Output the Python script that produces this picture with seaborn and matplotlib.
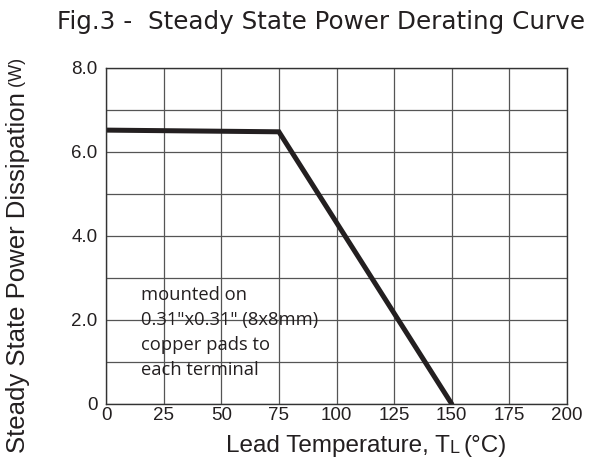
import matplotlib
matplotlib.use('Agg')
import matplotlib.pyplot as plt
import seaborn as sns
import pandas as pd

temps = [0, 75, 150]
power = [6.52, 6.48, 0.0]
x_ticks = [0, 25, 50, 75, 100, 125, 150, 175, 200]
y_ticks = [0, 1, 2, 3, 4, 5, 6, 7, 8]
y_labels = ['0', '', '2.0', '', '4.0', '', '6.0', '', '8.0']
note = 'mounted on\n0.31"x0.31" (8x8mm)\ncopper pads to\neach terminal'

sns.set_style('white')
plt.rcParams['font.family'] = ['Liberation Sans', 'DejaVu Sans']

df = pd.DataFrame({'temp': temps, 'power': power})

fig = plt.figure(figsize=(5.94, 4.68), dpi=100)
ax = fig.add_axes([0.1785, 0.1368, 0.776, 0.718])

sns.lineplot(data=df, x='temp', y='power', ax=ax, color='#231f20', linewidth=3.6,
             solid_joinstyle='miter')

ax.set_xlim(0, 200)
ax.set_ylim(0, 8)
ax.set_xticks(x_ticks)
ax.set_yticks(y_ticks)
ax.set_yticklabels(y_labels)
ax.tick_params(length=0, labelsize=13.5, colors='#231f20')
ax.tick_params(axis='x', pad=2)
ax.tick_params(axis='y', pad=6)
ax.grid(True, color='#555555', linewidth=0.9)
for s in ax.spines.values():
    s.set_color('#333333')
    s.set_linewidth(1.0)
ax.set_xlabel('')
ax.set_ylabel('')

ax.text(15, 2.8, note, fontsize=13.2, family=['Open Sans', 'DejaVu Sans'],
        color='#231f20', va='top', ha='left', linespacing=1.48)

fig.text(0.096, 0.953, 'Fig.3 -  Steady State Power Derating Curve', fontsize=17.7,
         family=['DejaVu Sans'], color='#231f20', va='center', ha='left')

yl = fig.text(0.03, 0.032, 'Steady State Power Dissipation', fontsize=18.5,
              rotation=90, ha='center', va='bottom', color='#231f20')
ax.annotate(' (W)', xy=(0.5, 1), xycoords=yl, fontsize=13, rotation=90,
            ha='center', va='bottom', color='#231f20')

xl = fig.text(0.38, 0.034, 'Lead Temperature, T', fontsize=17.5, ha='left',
              va='baseline', color='#231f20')
xl2 = ax.annotate('L', xy=(1, 0), xycoords=xl, fontsize=13, ha='left',
                  va='bottom', color='#231f20')
ax.annotate('(°C)', xy=(1, 0), xycoords=xl2, xytext=(3, 0), textcoords='offset points',
            fontsize=17.5, ha='left', va='bottom', color='#231f20')

fig.savefig('out.png', dpi=100)
